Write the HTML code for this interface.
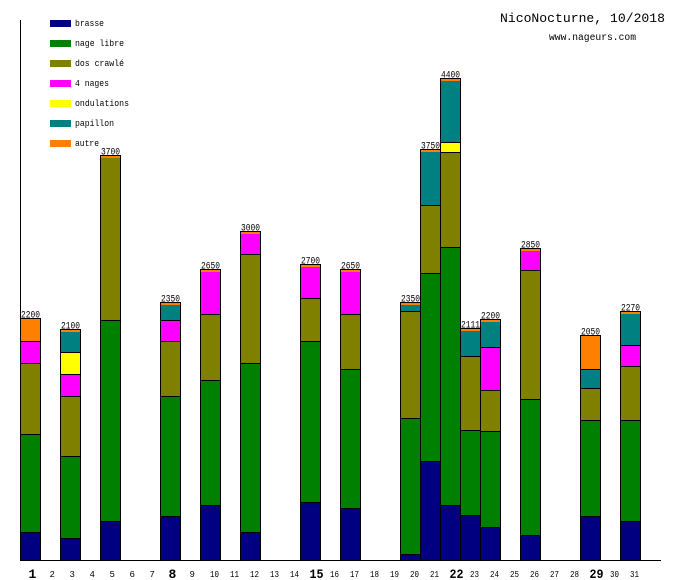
<!DOCTYPE html>
<html><head><meta charset="utf-8"><style>
html,body{margin:0;padding:0;background:#fff;}
svg{display:block;}
text{font-family:"Liberation Mono","DejaVu Sans Mono",monospace;fill:#000;}
.v{font-size:10px;}
.d{font-size:9px;}
.b{font-size:13px;font-weight:bold;}
.lg{font-size:9.5px;}
</style></head><body>
<svg width="680" height="580" viewBox="0 0 680 580" xmlns="http://www.w3.org/2000/svg">
<rect x="0" y="0" width="680" height="580" fill="#fff"/>
<text x="500" y="22" font-size="13.3" textLength="165" lengthAdjust="spacingAndGlyphs">NicoNocturne, 10/2018</text>
<text x="549" y="40" font-size="9.8" textLength="87" lengthAdjust="spacingAndGlyphs">www.nageurs.com</text>
<g shape-rendering="crispEdges">
<rect x="50" y="20" width="21" height="7" fill="#000080"/>
<rect x="50" y="40" width="21" height="7" fill="#008000"/>
<rect x="50" y="60" width="21" height="7" fill="#808000"/>
<rect x="50" y="80" width="21" height="7" fill="#ff00ff"/>
<rect x="50" y="100" width="21" height="7" fill="#ffff00"/>
<rect x="50" y="120" width="21" height="7" fill="#008080"/>
<rect x="50" y="140" width="21" height="7" fill="#ff8000"/>
</g>
<text class="lg" x="75" y="26" textLength="29" lengthAdjust="spacingAndGlyphs">brasse</text>
<text class="lg" x="75" y="46" textLength="49" lengthAdjust="spacingAndGlyphs">nage libre</text>
<text class="lg" x="75" y="66" textLength="49" lengthAdjust="spacingAndGlyphs">dos crawlé</text>
<text class="lg" x="75" y="86" textLength="34" lengthAdjust="spacingAndGlyphs">4 nages</text>
<text class="lg" x="75" y="106" textLength="54" lengthAdjust="spacingAndGlyphs">ondulations</text>
<text class="lg" x="75" y="126" textLength="39" lengthAdjust="spacingAndGlyphs">papillon</text>
<text class="lg" x="75" y="146" textLength="24" lengthAdjust="spacingAndGlyphs">autre</text>

<g shape-rendering="crispEdges" stroke="#000" stroke-width="1">
<!-- day 1 -->
<rect x="20.5" y="318.5" width="20" height="23" fill="#ff8000"/>
<rect x="20.5" y="341.5" width="20" height="22" fill="#ff00ff"/>
<rect x="20.5" y="363.5" width="20" height="71" fill="#808000"/>
<rect x="20.5" y="434.5" width="20" height="98" fill="#008000"/>
<rect x="20.5" y="532.5" width="20" height="28" fill="#000080"/>
<!-- day 3 -->
<rect x="60.5" y="329.5" width="20" height="2" fill="#ff8000"/>
<rect x="60.5" y="331.5" width="20" height="21" fill="#008080"/>
<rect x="60.5" y="352.5" width="20" height="22" fill="#ffff00"/>
<rect x="60.5" y="374.5" width="20" height="22" fill="#ff00ff"/>
<rect x="60.5" y="396.5" width="20" height="60" fill="#808000"/>
<rect x="60.5" y="456.5" width="20" height="82" fill="#008000"/>
<rect x="60.5" y="538.5" width="20" height="22" fill="#000080"/>
<!-- day 5 -->
<rect x="100.5" y="155.5" width="20" height="2" fill="#ff8000"/>
<rect x="100.5" y="157.5" width="20" height="163" fill="#808000"/>
<rect x="100.5" y="320.5" width="20" height="201" fill="#008000"/>
<rect x="100.5" y="521.5" width="20" height="39" fill="#000080"/>
<!-- day 8 -->
<rect x="160.5" y="302.5" width="20" height="2" fill="#ff8000"/>
<rect x="160.5" y="304.5" width="20" height="16" fill="#008080"/>
<rect x="160.5" y="320.5" width="20" height="21" fill="#ff00ff"/>
<rect x="160.5" y="341.5" width="20" height="55" fill="#808000"/>
<rect x="160.5" y="396.5" width="20" height="120" fill="#008000"/>
<rect x="160.5" y="516.5" width="20" height="44" fill="#000080"/>
<!-- day 10 -->
<rect x="200.5" y="269.5" width="20" height="2" fill="#ff8000"/>
<rect x="200.5" y="271.5" width="20" height="43" fill="#ff00ff"/>
<rect x="200.5" y="314.5" width="20" height="66" fill="#808000"/>
<rect x="200.5" y="380.5" width="20" height="125" fill="#008000"/>
<rect x="200.5" y="505.5" width="20" height="55" fill="#000080"/>
<!-- day 12 -->
<rect x="240.5" y="231.5" width="20" height="2" fill="#ff8000"/>
<rect x="240.5" y="233.5" width="20" height="21" fill="#ff00ff"/>
<rect x="240.5" y="254.5" width="20" height="109" fill="#808000"/>
<rect x="240.5" y="363.5" width="20" height="169" fill="#008000"/>
<rect x="240.5" y="532.5" width="20" height="28" fill="#000080"/>
<!-- day 15 -->
<rect x="300.5" y="264.5" width="20" height="2" fill="#ff8000"/>
<rect x="300.5" y="266.5" width="20" height="32" fill="#ff00ff"/>
<rect x="300.5" y="298.5" width="20" height="43" fill="#808000"/>
<rect x="300.5" y="341.5" width="20" height="161" fill="#008000"/>
<rect x="300.5" y="502.5" width="20" height="58" fill="#000080"/>
<!-- day 17 -->
<rect x="340.5" y="269.5" width="20" height="2" fill="#ff8000"/>
<rect x="340.5" y="271.5" width="20" height="43" fill="#ff00ff"/>
<rect x="340.5" y="314.5" width="20" height="55" fill="#808000"/>
<rect x="340.5" y="369.5" width="20" height="139" fill="#008000"/>
<rect x="340.5" y="508.5" width="20" height="52" fill="#000080"/>
<!-- day 20 -->
<rect x="400.5" y="302.5" width="20" height="2" fill="#ff8000"/>
<rect x="400.5" y="304.5" width="20" height="7" fill="#008080"/>
<rect x="400.5" y="311.5" width="20" height="107" fill="#808000"/>
<rect x="400.5" y="418.5" width="20" height="136" fill="#008000"/>
<rect x="400.5" y="554.5" width="20" height="6" fill="#000080"/>
<!-- day 21 -->
<rect x="420.5" y="149.5" width="20" height="2" fill="#ff8000"/>
<rect x="420.5" y="151.5" width="20" height="54" fill="#008080"/>
<rect x="420.5" y="205.5" width="20" height="68" fill="#808000"/>
<rect x="420.5" y="273.5" width="20" height="188" fill="#008000"/>
<rect x="420.5" y="461.5" width="20" height="99" fill="#000080"/>
<!-- day 22 -->
<rect x="440.5" y="78.5" width="20" height="2" fill="#ff8000"/>
<rect x="440.5" y="80.5" width="20" height="62" fill="#008080"/>
<rect x="440.5" y="142.5" width="20" height="10" fill="#ffff00"/>
<rect x="440.5" y="152.5" width="20" height="95" fill="#808000"/>
<rect x="440.5" y="247.5" width="20" height="258" fill="#008000"/>
<rect x="440.5" y="505.5" width="20" height="55" fill="#000080"/>
<!-- day 23 -->
<rect x="460.5" y="328.5" width="20" height="2" fill="#ff8000"/>
<rect x="460.5" y="330.5" width="20" height="26" fill="#008080"/>
<rect x="460.5" y="356.5" width="20" height="74" fill="#808000"/>
<rect x="460.5" y="430.5" width="20" height="85" fill="#008000"/>
<rect x="460.5" y="515.5" width="20" height="45" fill="#000080"/>
<!-- day 24 -->
<rect x="480.5" y="319.5" width="20" height="2" fill="#ff8000"/>
<rect x="480.5" y="321.5" width="20" height="26" fill="#008080"/>
<rect x="480.5" y="347.5" width="20" height="43" fill="#ff00ff"/>
<rect x="480.5" y="390.5" width="20" height="41" fill="#808000"/>
<rect x="480.5" y="431.5" width="20" height="96" fill="#008000"/>
<rect x="480.5" y="527.5" width="20" height="33" fill="#000080"/>
<!-- day 26 -->
<rect x="520.5" y="248.5" width="20" height="2" fill="#ff8000"/>
<rect x="520.5" y="250.5" width="20" height="20" fill="#ff00ff"/>
<rect x="520.5" y="270.5" width="20" height="129" fill="#808000"/>
<rect x="520.5" y="399.5" width="20" height="136" fill="#008000"/>
<rect x="520.5" y="535.5" width="20" height="25" fill="#000080"/>
<!-- day 29 -->
<rect x="580.5" y="335.5" width="20" height="34" fill="#ff8000"/>
<rect x="580.5" y="369.5" width="20" height="19" fill="#008080"/>
<rect x="580.5" y="388.5" width="20" height="32" fill="#808000"/>
<rect x="580.5" y="420.5" width="20" height="96" fill="#008000"/>
<rect x="580.5" y="516.5" width="20" height="44" fill="#000080"/>
<!-- day 31 -->
<rect x="620.5" y="311.5" width="20" height="2" fill="#ff8000"/>
<rect x="620.5" y="313.5" width="20" height="32" fill="#008080"/>
<rect x="620.5" y="345.5" width="20" height="21" fill="#ff00ff"/>
<rect x="620.5" y="366.5" width="20" height="54" fill="#808000"/>
<rect x="620.5" y="420.5" width="20" height="101" fill="#008000"/>
<rect x="620.5" y="521.5" width="20" height="39" fill="#000080"/>
</g>

<!-- orange top strips overlay (2px solid orange) -->
<g shape-rendering="crispEdges" fill="#ff8000">
<rect x="61" y="330" width="19" height="2"/>
<rect x="101" y="156" width="19" height="2"/>
<rect x="161" y="303" width="19" height="2"/>
<rect x="201" y="270" width="19" height="2"/>
<rect x="241" y="232" width="19" height="2"/>
<rect x="301" y="265" width="19" height="2"/>
<rect x="341" y="270" width="19" height="2"/>
<rect x="401" y="303" width="19" height="2"/>
<rect x="421" y="150" width="19" height="2"/>
<rect x="441" y="79" width="19" height="2"/>
<rect x="461" y="329" width="19" height="2"/>
<rect x="481" y="320" width="19" height="2"/>
<rect x="521" y="249" width="19" height="2"/>
<rect x="621" y="312" width="19" height="2"/>
</g>

<g shape-rendering="crispEdges" stroke="#000" stroke-width="1">
<line x1="20.5" y1="20" x2="20.5" y2="561"/>
<line x1="20" y1="560.5" x2="661" y2="560.5"/>
</g>

<g class="v" text-anchor="middle">
<text x="30.5" y="317.5" textLength="19" lengthAdjust="spacingAndGlyphs">2200</text>
<text x="70.5" y="328.5" textLength="19" lengthAdjust="spacingAndGlyphs">2100</text>
<text x="110.5" y="154.5" textLength="19" lengthAdjust="spacingAndGlyphs">3700</text>
<text x="170.5" y="301.5" textLength="19" lengthAdjust="spacingAndGlyphs">2350</text>
<text x="210.5" y="268.5" textLength="19" lengthAdjust="spacingAndGlyphs">2650</text>
<text x="250.5" y="230.5" textLength="19" lengthAdjust="spacingAndGlyphs">3000</text>
<text x="310.5" y="263.5" textLength="19" lengthAdjust="spacingAndGlyphs">2700</text>
<text x="350.5" y="268.5" textLength="19" lengthAdjust="spacingAndGlyphs">2650</text>
<text x="410.5" y="301.5" textLength="19" lengthAdjust="spacingAndGlyphs">2350</text>
<text x="430.5" y="148.5" textLength="19" lengthAdjust="spacingAndGlyphs">3750</text>
<text x="450.5" y="77.5" textLength="19" lengthAdjust="spacingAndGlyphs">4400</text>
<text x="470.5" y="327.5" textLength="19" lengthAdjust="spacingAndGlyphs">2111</text>
<text x="490.5" y="318.5" textLength="19" lengthAdjust="spacingAndGlyphs">2200</text>
<text x="530.5" y="247.5" textLength="19" lengthAdjust="spacingAndGlyphs">2850</text>
<text x="590.5" y="334.5" textLength="19" lengthAdjust="spacingAndGlyphs">2050</text>
<text x="630.5" y="310.5" textLength="19" lengthAdjust="spacingAndGlyphs">2270</text>
</g>

<g>
<text class="b" x="28.5" y="578">1</text>
<text class="d" x="49.5" y="577">2</text>
<text class="d" x="69.5" y="577">3</text>
<text class="d" x="89.5" y="577">4</text>
<text class="d" x="109.5" y="577">5</text>
<text class="d" x="129.5" y="577">6</text>
<text class="d" x="149.5" y="577">7</text>
<text class="b" x="168.5" y="578">8</text>
<text class="d" x="189.5" y="577">9</text>
<text class="d" x="210" y="577" textLength="9" lengthAdjust="spacingAndGlyphs">10</text>
<text class="d" x="230" y="577" textLength="9" lengthAdjust="spacingAndGlyphs">11</text>
<text class="d" x="250" y="577" textLength="9" lengthAdjust="spacingAndGlyphs">12</text>
<text class="d" x="270" y="577" textLength="9" lengthAdjust="spacingAndGlyphs">13</text>
<text class="d" x="290" y="577" textLength="9" lengthAdjust="spacingAndGlyphs">14</text>
<text class="b" x="309.5" y="578" textLength="14" lengthAdjust="spacingAndGlyphs">15</text>
<text class="d" x="330" y="577" textLength="9" lengthAdjust="spacingAndGlyphs">16</text>
<text class="d" x="350" y="577" textLength="9" lengthAdjust="spacingAndGlyphs">17</text>
<text class="d" x="370" y="577" textLength="9" lengthAdjust="spacingAndGlyphs">18</text>
<text class="d" x="390" y="577" textLength="9" lengthAdjust="spacingAndGlyphs">19</text>
<text class="d" x="410" y="577" textLength="9" lengthAdjust="spacingAndGlyphs">20</text>
<text class="d" x="430" y="577" textLength="9" lengthAdjust="spacingAndGlyphs">21</text>
<text class="b" x="449.5" y="578" textLength="14" lengthAdjust="spacingAndGlyphs">22</text>
<text class="d" x="470" y="577" textLength="9" lengthAdjust="spacingAndGlyphs">23</text>
<text class="d" x="490" y="577" textLength="9" lengthAdjust="spacingAndGlyphs">24</text>
<text class="d" x="510" y="577" textLength="9" lengthAdjust="spacingAndGlyphs">25</text>
<text class="d" x="530" y="577" textLength="9" lengthAdjust="spacingAndGlyphs">26</text>
<text class="d" x="550" y="577" textLength="9" lengthAdjust="spacingAndGlyphs">27</text>
<text class="d" x="570" y="577" textLength="9" lengthAdjust="spacingAndGlyphs">28</text>
<text class="b" x="589.5" y="578" textLength="14" lengthAdjust="spacingAndGlyphs">29</text>
<text class="d" x="610" y="577" textLength="9" lengthAdjust="spacingAndGlyphs">30</text>
<text class="d" x="630" y="577" textLength="9" lengthAdjust="spacingAndGlyphs">31</text>
</g>
</svg>
</body></html>
